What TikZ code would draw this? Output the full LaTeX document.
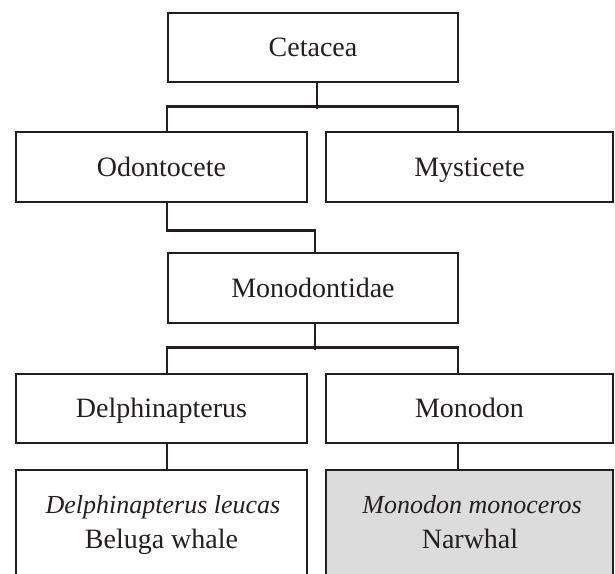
\documentclass[tikz,border=0pt]{standalone}
\usepackage{fontspec}
\setmainfont{Liberation Serif}
\definecolor{ink}{HTML}{231F20}
\definecolor{shade}{HTML}{DCDCDC}
\tikzset{
  taxon/.style={draw=ink, line width=2.8pt, rectangle, inner sep=0pt,
    text height=18.5pt, text depth=0pt, text=ink,
    font=\fontsize{28}{34}\selectfont},
  link/.style={draw=ink, line width=2.8pt},
  lbl/.style={inner sep=0pt, anchor=base, text=ink, font=\fontsize{28}{34}\selectfont},
  ilbl/.style={lbl, font=\fontsize{26}{32}\selectfont\itshape}
}
\begin{document}
\begin{tikzpicture}[x=1pt, y=-1pt]
\useasboundingbox (0,0) rectangle (615,573);
\fill[white] (0,0) rectangle (615,573);
\clip (0,0) rectangle (615,573);
\coordinate (xL) at (167,0);
\coordinate (xR) at (458,0);
\coordinate (xC) at (317,0);
\coordinate (xM) at (315,0);

\node[taxon, minimum width=290pt, minimum height=69pt] (cet) at (313,47.5) {Cetacea};
\node[taxon, minimum width=291pt, minimum height=70pt] (odo) at (161.5,167) {Odontocete};
\node[taxon, minimum width=287pt, minimum height=70pt] (mys) at (469.5,167) {Mysticete};
\node[taxon, minimum width=290pt, minimum height=70pt] (mono) at (313,288) {Monodontidae};
\node[taxon, minimum width=291pt, minimum height=69pt] (del) at (161.5,408.5) {Delphinapterus};
\node[taxon, minimum width=287pt, minimum height=69pt] (mon) at (469.5,408.5) {Monodon};
\node[taxon, minimum width=291pt, minimum height=140pt] (bel) at (161.5,540) {};
\node[taxon, fill=shade, minimum width=287pt, minimum height=140pt] (nar) at (469.5,540) {};

\node[ilbl] (belsci) at (163,513) {Delphinapterus leucas};
\node[lbl] (belcom) at (161.5,548) {Beluga whale};
\node[ilbl] (narsci) at (472,513) {Monodon monoceros};
\node[lbl] (narcom) at (470,548) {Narwhal};

\draw[link] (cet.south -| xC) -- ++(0,26) coordinate (t1);
\draw[link] (odo.north -| xL) -- ++(0,-24) -| (mys.north -| xR);
\draw[link] (odo.south -| xL) -- ++(0,27) -| (mono.north -| xM);
\draw[link] (mono.south -| xM) -- ++(0,26) coordinate (t2);
\draw[link] (del.north -| xL) -- ++(0,-25) -| (mon.north -| xR);
\draw[link] (del.south -| xL) -- (bel.north -| xL);
\draw[link] (mon.south -| xR) -- (nar.north -| xR);
\end{tikzpicture}
\end{document}
